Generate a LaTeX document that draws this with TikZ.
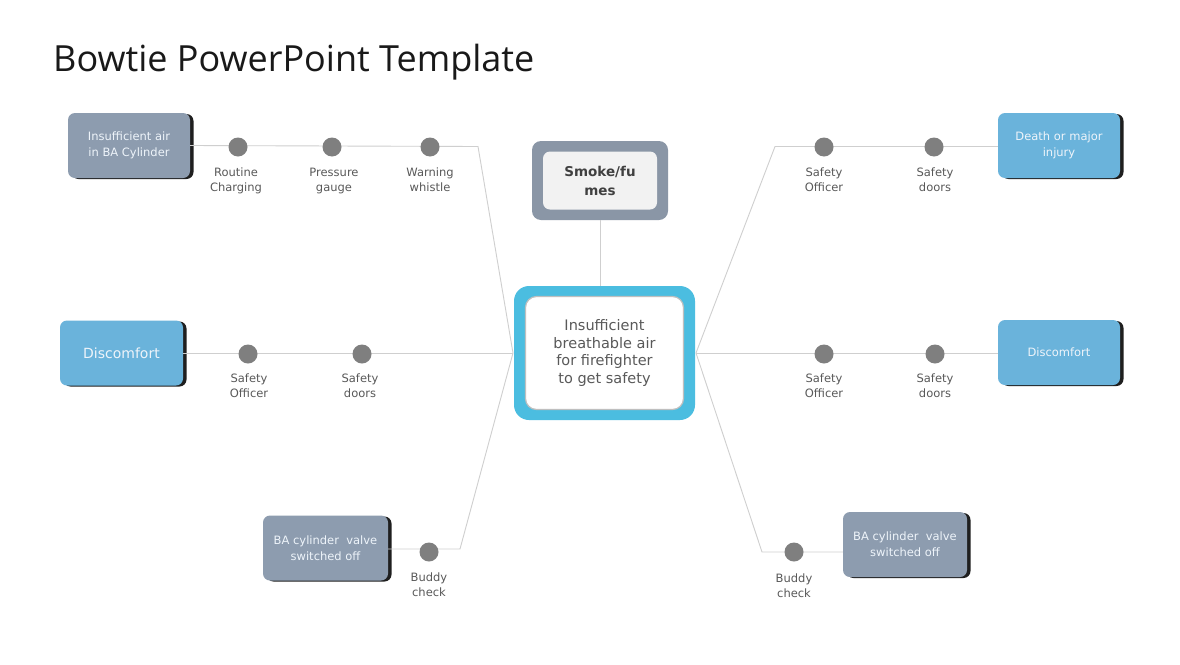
\documentclass[tikz,border=0pt]{standalone}
\usepackage{fontspec}
\setmainfont{DejaVu Sans}
\newfontfamily\titlefont{Open Sans}
\usetikzlibrary{shadows}
\definecolor{greybox}{HTML}{8D9CAF}
\definecolor{bluebox}{HTML}{6AB3DB}
\definecolor{hubcyan}{HTML}{4BBDE0}
\definecolor{dotgray}{HTML}{7F7F7F}
\definecolor{linegray}{HTML}{CFCFCF}
\definecolor{lblgray}{HTML}{595959}
\definecolor{boxtext}{HTML}{EEF4FA}
\definecolor{smokeframe}{HTML}{8A96A6}
\definecolor{smokefill}{HTML}{F2F2F2}
\begin{document}
\begin{tikzpicture}[x=1pt,y=-1pt,
  link/.style={draw=linegray, line width=0.9pt},
  dot/.style={circle, fill=dotgray, minimum size=19pt, inner sep=0pt},
  lbl/.style={text=lblgray, font=\fontsize{11.5}{14.5}\selectfont, align=center, anchor=north, inner sep=0pt},
  sbox/.style={rounded corners=7pt, minimum width=122pt, minimum height=65pt, inner sep=2pt,
    text=boxtext, align=center, font=\fontsize{11.5}{16}\selectfont,
    general shadow={fill=black!88, shadow xshift=3.5pt, shadow yshift=-1pt}},
  greyb/.style={sbox, fill=greybox},
  blueb/.style={sbox, fill=bluebox}
]
\useasboundingbox (0,0) rectangle (1180,664);
\fill[white] (0,0) rectangle (1180,664);

% title
\node[anchor=west, inner sep=0pt, text=black!90, font=\titlefont\fontsize{36}{40}\selectfont] (title) at (53,62) {Bowtie PowerPoint Template};

% hub
\node[fill=hubcyan, rounded corners=15pt, minimum width=181pt, minimum height=134pt, inner sep=0pt] (hub) at (604.5,353) {};
\node[fill=white, draw=black!25, line width=1.2pt, rounded corners=11pt, minimum width=158pt, minimum height=113pt, inner sep=0pt,
  text=lblgray, align=center, font=\fontsize{14.5}{17.5}\selectfont] (hubin) at (604.5,353)
  {Insufficient\\breathable air\\for firefighter\\to get safety};

% smoke
\node[fill=smokeframe, rounded corners=9pt, minimum width=136pt, minimum height=79pt, inner sep=0pt] (smoke) at (600,180.5) {};
\node[fill=smokefill, rounded corners=7pt, minimum width=114pt, minimum height=58pt, inner sep=0pt,
  text=black!75, align=center, font=\bfseries\fontsize{13.5}{19}\selectfont] (smokein) at (600,180.5) {Smoke/fu\\mes};

% boxes
\node[greyb] (ins) at (129,145.5) {Insufficient air\\in BA Cylinder};
\node[blueb, font=\fontsize{14}{16}\selectfont, minimum width=123pt] (disL) at (121.5,353) {Discomfort};
\node[greyb, minimum width=125pt] (baL) at (325.5,548) {BA cylinder\ \ valve\\switched off};
\node[blueb] (death) at (1059,145.5) {Death or major\\injury};
\node[blueb] (disR) at (1059,352.5) {Discomfort};
\node[greyb, minimum width=124pt] (baR) at (905,544.5) {BA cylinder\ \ valve\\switched off};

% bend coordinates
\coordinate (lt) at (478,146.5);
\coordinate (lb) at (460,549);
\coordinate (rt) at (775,146.5);
\coordinate (rb) at (762,552);
\coordinate (hl) at (513,353);
\coordinate (hr) at (696,353);

% connectors
\draw[link] (smoke.south) -- (hub.north -| smoke.south);
\draw[link] (ins.east) -- (lt) -- (hl);
\draw[link] (disL.east) -- (hl);
\draw[link] (baL.east |- lb) -- (lb) -- (hl);
\draw[link] (hr) -- (rt) -- (death.west |- rt);
\draw[link] (hr) -- (disR.west |- hr);
\draw[link] (hr) -- (rb) -- (baR.west |- rb);

% dots and labels
\node[dot] (d1) at (238,147) {};
\node[lbl] (l1) at (236,168) {Routine\\Charging};
\node[dot] (d2) at (332,147) {};
\node[lbl] (l2) at (334,168) {Pressure\\gauge};
\node[dot] (d3) at (430,147) {};
\node[lbl] (l3) at (430,168) {Warning\\whistle};

\node[dot] (d4) at (248,354) {};
\node[lbl] (l4) at (249,374) {Safety\\Officer};
\node[dot] (d5) at (362,354) {};
\node[lbl] (l5) at (360,374) {Safety\\doors};

\node[dot] (d6) at (429,552) {};
\node[lbl] (l6) at (429,573) {Buddy\\check};

\node[dot] (d7) at (824,147) {};
\node[lbl] (l7) at (824,168) {Safety\\Officer};
\node[dot] (d8) at (934,147) {};
\node[lbl] (l8) at (935,168) {Safety\\doors};

\node[dot] (d9) at (824,354) {};
\node[lbl] (l9) at (824,374) {Safety\\Officer};
\node[dot] (d10) at (935,354) {};
\node[lbl] (l10) at (935,374) {Safety\\doors};

\node[dot] (d11) at (794,552) {};
\node[lbl] (l11) at (794,574) {Buddy\\check};
\end{tikzpicture}
\end{document}
